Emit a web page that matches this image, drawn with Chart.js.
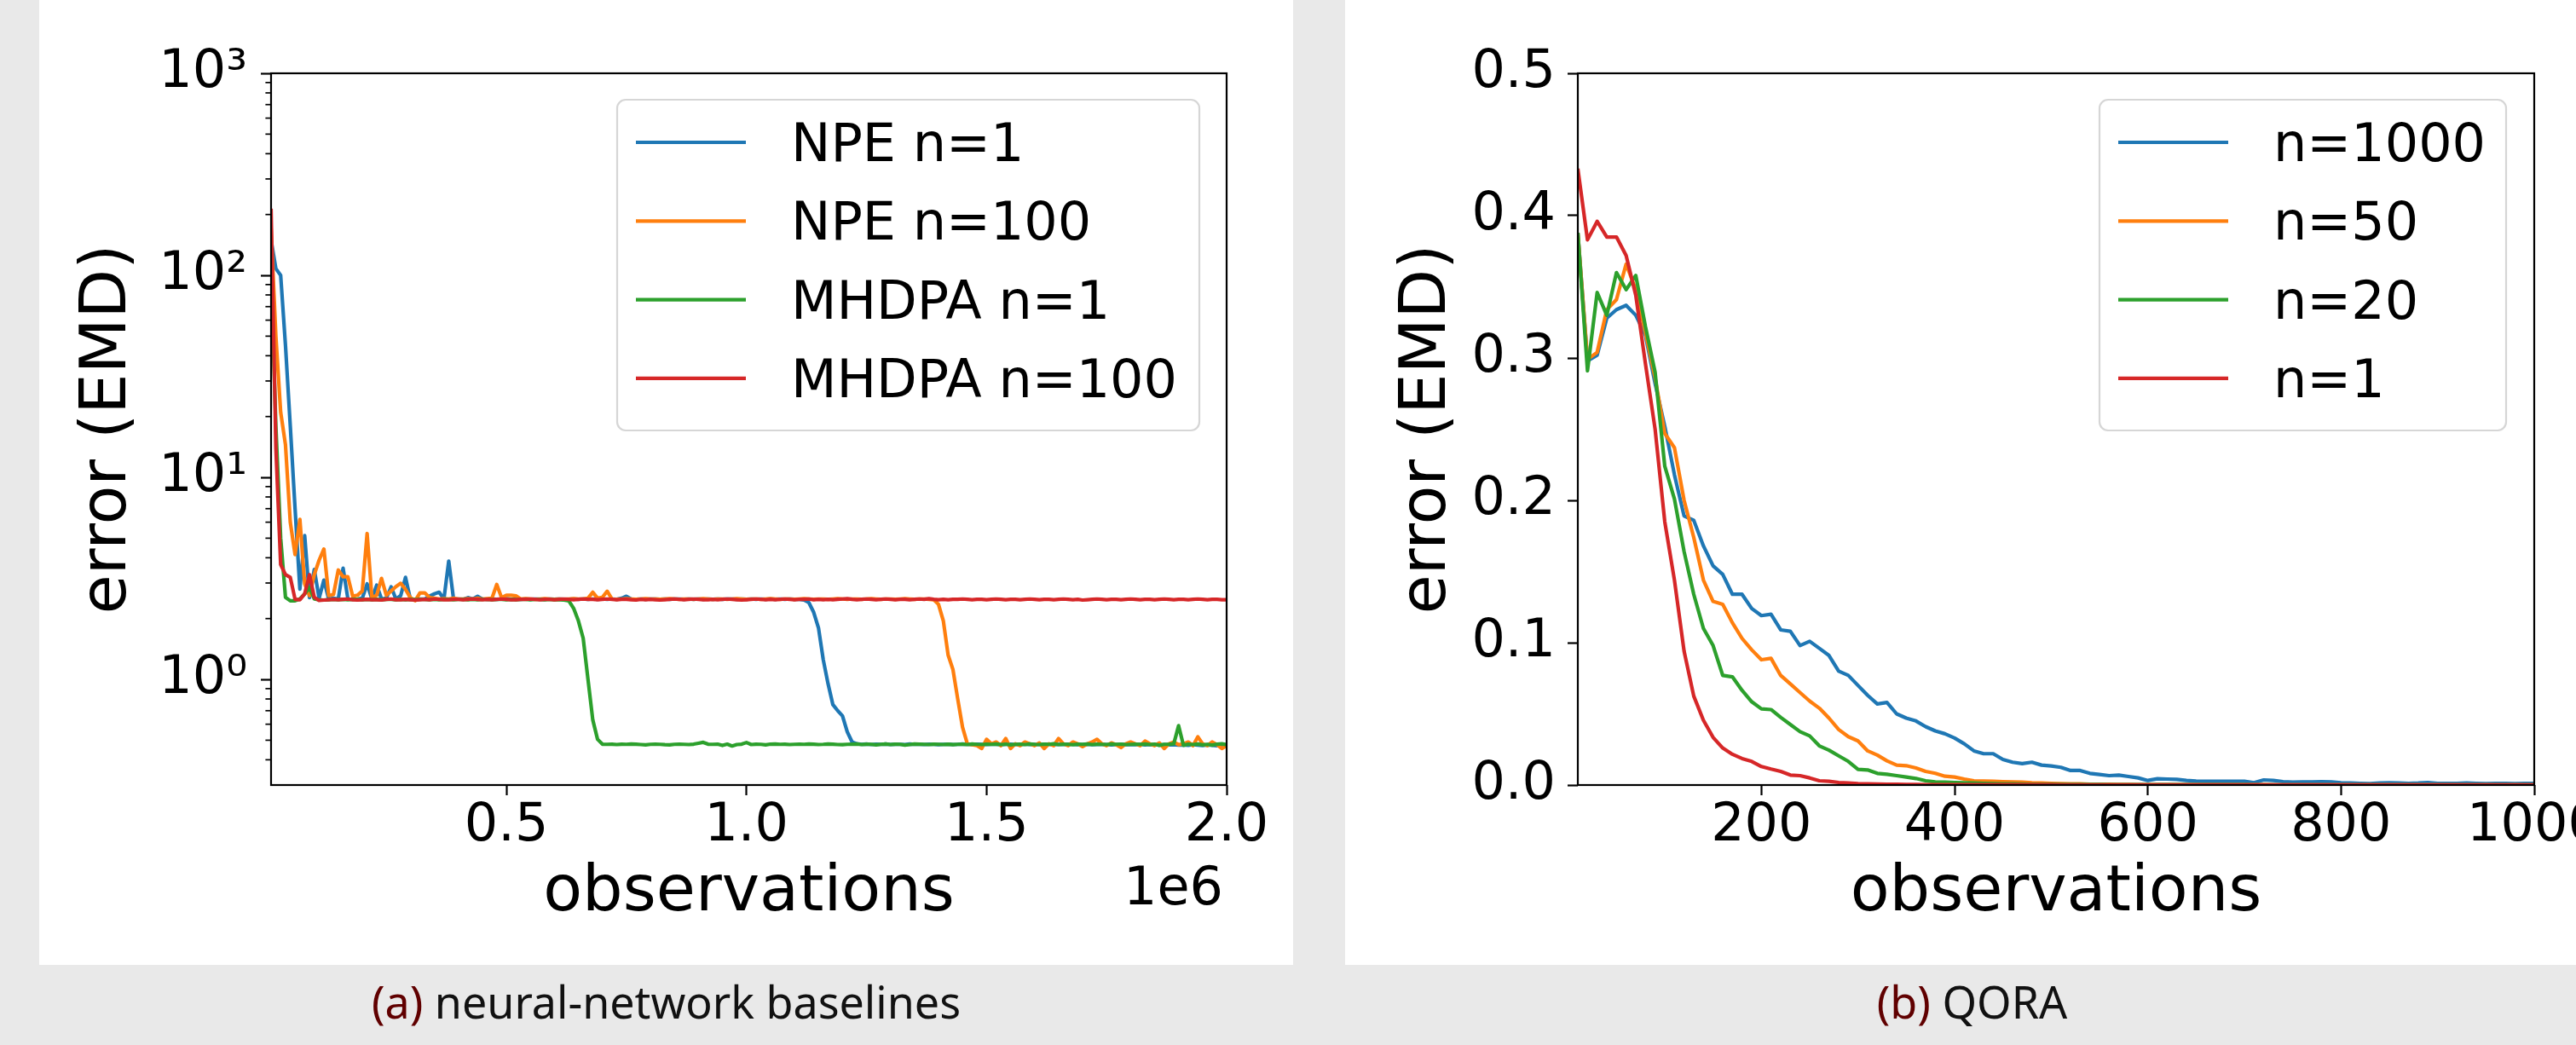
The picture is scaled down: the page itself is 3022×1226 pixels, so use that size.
<!DOCTYPE html>
<html><head><meta charset="utf-8">
<script src="https://cdn.jsdelivr.net/npm/chart.js@4"></script>
<style>
html,body{margin:0;padding:0;background:#e9e9e9;width:3022px;height:1226px;overflow:hidden;position:relative;}
.panel{position:absolute;top:0;height:1132px;background:#fff;}
#pa{left:46px;width:1471px;}
#pb{left:1578px;width:1471px;}
canvas{position:absolute;top:0;left:0;}
.cap{position:absolute;top:1149px;height:52px;line-height:52px;font-family:"Noto Sans";font-size:52px;color:#111;text-align:center;white-space:nowrap;}
.cap span{color:#600000;}
</style></head>
<body>
<div class="panel" id="pa"><canvas id="ca" width="1471" height="1132"></canvas></div>
<div class="panel" id="pb"><canvas id="cb" width="1482" height="1132"></canvas></div>
<div class="cap" style="left:46px;width:1471px;"><span>(a)</span> neural-network baselines</div>
<div class="cap" style="left:1578px;width:1471px;"><span>(b)</span> QORA</div>
<script>
const FONT = 'DejaVu Sans';
const COLORS = ['#1f77b4', '#ff7f0e', '#2ca02c', '#d62728'];

// ---------- (a) neural-network baselines ----------
const obsNN = [
10000,20000,30000,40000,50000,60000,70000,80000,90000,100000,
110000,120000,130000,140000,150000,160000,170000,180000,190000,200000,
210000,220000,230000,240000,250000,260000,270000,280000,290000,300000,
310000,320000,330000,340000,350000,360000,370000,380000,390000,400000,
410000,420000,430000,440000,450000,460000,470000,480000,490000,500000,
510000,520000,530000,540000,550000,560000,570000,580000,590000,600000,
610000,620000,630000,640000,650000,660000,670000,680000,690000,700000,
710000,720000,730000,740000,750000,760000,770000,780000,790000,800000,
810000,820000,830000,840000,850000,860000,870000,880000,890000,900000,
910000,920000,930000,940000,950000,960000,970000,980000,990000,1000000,
1010000,1020000,1030000,1040000,1050000,1060000,1070000,1080000,1090000,1100000,
1110000,1120000,1130000,1140000,1150000,1160000,1170000,1180000,1190000,1200000,
1210000,1220000,1230000,1240000,1250000,1260000,1270000,1280000,1290000,1300000,
1310000,1320000,1330000,1340000,1350000,1360000,1370000,1380000,1390000,1400000,
1410000,1420000,1430000,1440000,1450000,1460000,1470000,1480000,1490000,1500000,
1510000,1520000,1530000,1540000,1550000,1560000,1570000,1580000,1590000,1600000,
1610000,1620000,1630000,1640000,1650000,1660000,1670000,1680000,1690000,1700000,
1710000,1720000,1730000,1740000,1750000,1760000,1770000,1780000,1790000,1800000,
1810000,1820000,1830000,1840000,1850000,1860000,1870000,1880000,1890000,1900000,
1910000,1920000,1930000,1940000,1950000,1960000,1970000,1980000,1990000,2000000];

const npeN1 = [
150,108,100,45,18,7.0,2.8,5.15,2.54,3.5,
2.52,3.1,2.5,2.52,2.5,3.55,2.5,2.49,2.5,2.52,
2.97,2.5,2.93,2.5,2.52,2.87,2.5,2.6,3.2,2.5,
2.49,2.5,2.5,2.58,2.65,2.7,2.5,3.85,2.5,2.5,
2.49,2.54,2.5,2.58,2.5,2.49,2.5,2.49,2.5,2.51,
2.49,2.5,2.49,2.5,2.49,2.5,2.49,2.49,2.5,2.49,
2.5,2.49,2.49,2.5,2.49,2.5,2.49,2.5,2.49,2.5,
2.49,2.5,2.49,2.52,2.58,2.5,2.49,2.5,2.49,2.5,
2.5,2.49,2.5,2.49,2.5,2.5,2.49,2.5,2.49,2.5,
2.49,2.5,2.49,2.5,2.49,2.5,2.5,2.49,2.5,2.49,
2.5,2.49,2.5,2.49,2.5,2.49,2.5,2.49,2.5,2.49,
2.49,2.47,2.4,2.15,1.8,1.25,0.95,0.75,0.7,0.66,
0.55,0.49,0.48,0.477,0.479,0.476,0.478,0.477,0.479,0.476,
0.478,0.477,0.476,0.479,0.477,0.478,0.476,0.478,0.477,0.475,
0.477,0.478,0.476,0.477,0.479,0.477,0.476,0.478,0.477,0.476,
0.478,0.477,0.475,0.477,0.478,0.476,0.477,0.479,0.476,0.477,
0.476,0.478,0.477,0.475,0.477,0.476,0.478,0.477,0.475,0.476,
0.477,0.475,0.476,0.478,0.476,0.474,0.476,0.477,0.475,0.476,
0.475,0.477,0.474,0.476,0.475,0.473,0.476,0.474,0.475,0.473,
0.474,0.472,0.475,0.473,0.471,0.474,0.472,0.47,0.473,0.471];

const npeN100 = [
170,50,21,14.5,6.0,4.15,6.2,2.97,2.6,3.3,
3.89,4.42,2.6,2.63,3.48,3.22,3.22,2.58,2.61,2.74,
5.27,2.54,2.61,3.16,2.61,2.74,2.88,2.99,2.79,2.54,
2.45,2.68,2.68,2.54,2.52,2.5,2.51,2.5,2.52,2.5,
2.5,2.51,2.5,2.52,2.5,2.51,2.52,2.95,2.54,2.61,
2.61,2.59,2.5,2.51,2.5,2.49,2.5,2.51,2.5,2.49,
2.5,2.49,2.5,2.51,2.5,2.5,2.52,2.7,2.52,2.55,
2.73,2.5,2.49,2.5,2.51,2.5,2.49,2.5,2.51,2.5,
2.5,2.49,2.5,2.51,2.5,2.49,2.5,2.5,2.49,2.5,
2.51,2.5,2.49,2.5,2.5,2.49,2.5,2.51,2.5,2.49,
2.5,2.5,2.49,2.5,2.51,2.5,2.49,2.5,2.5,2.49,
2.5,2.51,2.5,2.49,2.5,2.5,2.49,2.5,2.51,2.5,
2.49,2.5,2.5,2.49,2.5,2.51,2.5,2.49,2.5,2.5,
2.49,2.5,2.51,2.5,2.49,2.5,2.5,2.49,2.48,2.35,
1.95,1.32,1.12,0.8,0.58,0.48,0.475,0.47,0.455,0.505,
0.48,0.49,0.47,0.51,0.455,0.48,0.47,0.49,0.48,0.47,
0.485,0.455,0.48,0.47,0.51,0.48,0.47,0.49,0.48,0.465,
0.48,0.49,0.505,0.48,0.47,0.485,0.475,0.46,0.48,0.49,
0.48,0.47,0.495,0.48,0.47,0.485,0.455,0.48,0.49,0.475,
0.48,0.49,0.47,0.52,0.48,0.47,0.49,0.475,0.455,0.47];

const mhdpaN1 = [
100,18,5,2.55,2.45,2.45,2.5,2.65,2.85,2.5,
2.48,2.47,2.48,2.49,2.48,2.49,2.48,2.49,2.49,2.48,
2.49,2.48,2.49,2.48,2.49,2.49,2.48,2.49,2.48,2.49,
2.48,2.49,2.49,2.48,2.49,2.48,2.49,2.49,2.48,2.49,
2.49,2.48,2.49,2.48,2.49,2.49,2.48,2.49,2.49,2.48,
2.49,2.48,2.49,2.49,2.48,2.49,2.49,2.48,2.49,2.48,
2.48,2.47,2.45,2.25,1.95,1.6,1.0,0.63,0.505,0.478,
0.477,0.478,0.476,0.478,0.477,0.479,0.478,0.476,0.474,0.477,
0.478,0.477,0.475,0.474,0.477,0.478,0.477,0.476,0.478,0.483,
0.488,0.478,0.477,0.478,0.471,0.478,0.468,0.476,0.478,0.487,
0.476,0.478,0.477,0.474,0.478,0.479,0.477,0.478,0.476,0.477,
0.478,0.477,0.479,0.478,0.476,0.477,0.479,0.478,0.476,0.475,
0.477,0.478,0.479,0.476,0.478,0.477,0.474,0.477,0.479,0.476,
0.478,0.477,0.473,0.476,0.479,0.478,0.477,0.476,0.478,0.477,
0.476,0.478,0.475,0.477,0.478,0.476,0.479,0.477,0.476,0.478,
0.477,0.479,0.476,0.478,0.474,0.477,0.478,0.476,0.479,0.477,
0.476,0.478,0.477,0.48,0.476,0.478,0.477,0.475,0.478,0.477,
0.479,0.476,0.478,0.477,0.476,0.479,0.477,0.478,0.476,0.477,
0.478,0.477,0.479,0.476,0.478,0.472,0.477,0.478,0.48,0.59,
0.472,0.478,0.476,0.479,0.474,0.477,0.473,0.478,0.48,0.475];

const mhdpaN100 = [
214,14,3.7,3.3,3.2,2.49,2.48,2.65,3.3,2.55,
2.46,2.47,2.48,2.49,2.48,2.49,2.5,2.48,2.47,2.48,
2.49,2.48,2.48,2.47,2.49,2.5,2.48,2.48,2.49,2.48,
2.47,2.48,2.49,2.48,2.5,2.49,2.48,2.48,2.49,2.49,
2.48,2.49,2.5,2.49,2.48,2.49,2.48,2.49,2.5,2.49,
2.48,2.48,2.49,2.49,2.5,2.49,2.48,2.49,2.49,2.48,
2.49,2.5,2.49,2.48,2.49,2.5,2.49,2.49,2.48,2.49,
2.5,2.49,2.48,2.49,2.49,2.48,2.47,2.49,2.48,2.49,
2.48,2.47,2.48,2.49,2.5,2.49,2.48,2.49,2.5,2.49,
2.48,2.48,2.49,2.48,2.49,2.5,2.49,2.48,2.47,2.48,
2.49,2.5,2.49,2.48,2.49,2.48,2.49,2.5,2.49,2.48,
2.49,2.49,2.5,2.48,2.49,2.48,2.49,2.48,2.49,2.5,
2.51,2.49,2.48,2.49,2.5,2.49,2.48,2.49,2.5,2.49,
2.48,2.49,2.49,2.48,2.49,2.5,2.49,2.51,2.49,2.48,
2.49,2.48,2.49,2.49,2.5,2.49,2.48,2.49,2.49,2.48,
2.49,2.5,2.49,2.48,2.49,2.49,2.48,2.49,2.5,2.49,
2.48,2.49,2.49,2.48,2.49,2.5,2.49,2.48,2.49,2.47,
2.48,2.49,2.5,2.49,2.48,2.49,2.49,2.48,2.49,2.5,
2.49,2.48,2.49,2.49,2.48,2.49,2.5,2.49,2.48,2.49,
2.49,2.48,2.49,2.5,2.49,2.48,2.49,2.49,2.48,2.48];

const labelsNN = ['NPE n=1', 'NPE n=100', 'MHDPA n=1', 'MHDPA n=100'];
const xTicksNN = [500000, 1000000, 1500000, 2000000];
const xTickLabelsNN = ['0.5', '1.0', '1.5', '2.0'];
const yTicksNN = [1, 10, 100, 1000];
const yTickLabelsNN = ['10\u2070', '10\u00B9', '10\u00B2', '10\u00B3'];
const yMinorNN = [0.4,0.5,0.6,0.7,0.8,0.9,2,3,4,5,6,7,8,9,20,30,40,50,60,70,80,90,200,300,400,500,600,700,800,900];

// ---------- (b) QORA ----------
const obsQ = [
10,20,30,40,50,60,70,80,90,100,
110,120,130,140,150,160,170,180,190,200,
210,220,230,240,250,260,270,280,290,300,
310,320,330,340,350,360,370,380,390,400,
410,420,430,440,450,460,470,480,490,500,
510,520,530,540,550,560,570,580,590,600,
610,620,630,640,650,660,670,680,690,700,
710,720,730,740,750,760,770,780,790,800,
810,820,830,840,850,860,870,880,890,900,
910,920,930,940,950,960,970,980,990,1000];

const qoraN1000 = [
0.388,0.298,0.302,0.328,0.334,0.337,0.330,0.316,0.282,0.252,
0.218,0.189,0.186,0.168,0.154,0.148,0.134,0.134,0.124,0.119,
0.120,0.109,0.108,0.098,0.101,0.096,0.091,0.080,0.077,0.070,
0.063,0.057,0.058,0.050,0.047,0.045,0.041,0.038,0.036,0.033,
0.029,0.024,0.022,0.022,0.018,0.016,0.015,0.016,0.014,0.0134,
0.0124,0.0102,0.0102,0.0082,0.0074,0.0066,0.0070,0.0060,0.0050,0.0032,
0.0044,0.0042,0.0040,0.0032,0.0028,0.0026,0.0026,0.0026,0.0026,0.0026,
0.0016,0.0036,0.0032,0.0024,0.0020,0.0022,0.0022,0.0024,0.0022,0.0016,
0.0014,0.0012,0.0010,0.0014,0.0016,0.0014,0.0012,0.0014,0.0018,0.0012,
0.0012,0.0012,0.0014,0.0012,0.0010,0.0012,0.0012,0.0010,0.0012,0.0012];

const qoraN50 = [
0.388,0.299,0.304,0.334,0.341,0.366,0.348,0.318,0.286,0.247,
0.237,0.200,0.174,0.144,0.129,0.127,0.114,0.103,0.095,0.088,
0.089,0.077,0.071,0.065,0.059,0.054,0.047,0.039,0.034,0.031,
0.024,0.021,0.017,0.014,0.0136,0.012,0.0096,0.0082,0.0062,0.0056,
0.0042,0.0030,0.0028,0.0026,0.0024,0.0022,0.0020,0.0016,0.0014,0.0012,
0.0010,0.0008,0.0008,0.0006,0.0006,0.0005,0.0004,0.0004,0.0003,0.0003,
0.0003,0.0002,0.0002,0.0002,0.0002,0.0002,0.0002,0.0002,0.0002,0.0002,
0.0002,0.0002,0.0001,0.0001,0.0001,0.0001,0.0001,0.0001,0.0001,0.0001,
0.0001,0.0001,0.0001,0.0001,0.0001,0.0001,0.0001,0.0001,0.0001,0.0001,
0.0001,0.0001,0.0001,0.0001,0.0001,0.0001,0.0001,0.0001,0.0001,0.0001];

const qoraN20 = [
0.388,0.291,0.346,0.330,0.360,0.348,0.358,0.322,0.290,0.224,
0.201,0.164,0.134,0.110,0.098,0.077,0.076,0.0665,0.0585,0.0535,
0.053,0.0475,0.0425,0.0375,0.0345,0.0275,0.0245,0.0205,0.0166,0.011,
0.0106,0.0082,0.0076,0.0066,0.0056,0.0046,0.0030,0.0022,0.0020,0.0018,
0.0016,0.0014,0.0012,0.0010,0.0009,0.0008,0.0007,0.0006,0.0005,0.0005,
0.0004,0.0004,0.0004,0.0004,0.0004,0.0003,0.0003,0.0003,0.0003,0.0003,
0.0002,0.0002,0.0002,0.0002,0.0002,0.0002,0.0002,0.0002,0.0002,0.0002,
0.0001,0.0001,0.0001,0.0001,0.0001,0.0001,0.0001,0.0001,0.0001,0.0001,
0.0001,0.0001,0.0001,0.0001,0.0001,0.0001,0.0001,0.0001,0.0001,0.0001,
0.0001,0.0001,0.0001,0.0001,0.0001,0.0001,0.0001,0.0001,0.0001,0.0001];

const qoraN1 = [
0.433,0.383,0.396,0.385,0.385,0.372,0.344,0.296,0.250,0.185,
0.144,0.094,0.0625,0.0455,0.0335,0.026,0.0216,0.0186,0.0166,0.013,
0.0112,0.0096,0.0070,0.0066,0.0050,0.0030,0.0026,0.0018,0.0014,0.0010,
0.0008,0.0007,0.0006,0.0005,0.0004,0.0004,0.0003,0.0003,0.0003,0.0002,
0.0002,0.0002,0.0002,0.0002,0.0002,0.0002,0.0002,0.0002,0.0002,0.0002,
0.0001,0.0001,0.0001,0.0001,0.0001,0.0001,0.0001,0.0001,0.0001,0.0001,
0.0001,0.0001,0.0001,0.0001,0.0001,0.0001,0.0001,0.0001,0.0001,0.0001,
0.0001,0.0001,0.0001,0.0001,0.0001,0.0001,0.0001,0.0001,0.0001,0.0001,
0.0001,0.0001,0.0001,0.0001,0.0001,0.0001,0.0001,0.0001,0.0001,0.0001,
0.0001,0.0001,0.0001,0.0001,0.0001,0.0001,0.0001,0.0001,0.0001,0.0001];

const labelsQ = ['n=1000', 'n=50', 'n=20', 'n=1'];
const xTicksQ = [200, 400, 600, 800, 1000];
const yTicksQ = [0, 0.1, 0.2, 0.3, 0.4, 0.5];

// ---------- helpers ----------
function makeDatasets(xs, series, labels) {
  return series.map((s, i) => ({
    label: labels[i],
    data: s.map((v, k) => ({ x: xs[k], y: v })),
    borderColor: COLORS[i],
    backgroundColor: COLORS[i],
    borderWidth: 4.2,
    borderJoinStyle: 'round',
    borderCapStyle: 'butt',
    pointRadius: 0,
    tension: 0,
    fill: false,
    order: 4 - i
  }));
}

function decor(opts) {
  return {
    id: 'decor',
    afterDraw(chart) {
      const { ctx, chartArea: a } = chart;
      ctx.save();
      if (opts.minor) {
        const ys = chart.scales.y;
        ctx.strokeStyle = '#000';
        ctx.lineWidth = 1.7;
        opts.minor.forEach(v => {
          const y = ys.getPixelForValue(v);
          ctx.beginPath(); ctx.moveTo(a.left - 6.6, y); ctx.lineTo(a.left, y); ctx.stroke();
        });
      }
      ctx.strokeStyle = '#000';
      ctx.lineWidth = 2.2;
      ctx.strokeRect(a.left, a.top, a.right - a.left, a.bottom - a.top);
      if (opts.offsetText) {
        ctx.font = '62px "' + FONT + '"';
        ctx.fillStyle = '#000';
        ctx.textAlign = 'right';
        ctx.textBaseline = 'alphabetic';
        ctx.fillText(opts.offsetText, a.right - 4, a.bottom + 140);
      }
      // legend
      const bw = opts.legendW, bh = 388;
      const bx = a.right - opts.legendGap - bw, by = a.top + 31;
      ctx.beginPath();
      ctx.roundRect(bx, by, bw, bh, 10);
      ctx.fillStyle = 'rgba(255,255,255,0.8)';
      ctx.fill();
      ctx.strokeStyle = '#d6d6d6';
      ctx.lineWidth = 2.2;
      ctx.stroke();
      chart.data.datasets.forEach((ds, i) => {
        const ly = by + 50 + i * 92.3;
        ctx.strokeStyle = ds.borderColor;
        ctx.lineWidth = 4.2;
        ctx.beginPath(); ctx.moveTo(bx + 22, ly); ctx.lineTo(bx + 151, ly); ctx.stroke();
        ctx.fillStyle = '#000';
        ctx.font = '62px "' + FONT + '"';
        ctx.textAlign = 'left';
        ctx.textBaseline = 'alphabetic';
        ctx.fillText(ds.label, bx + 204, ly + 22);
      });
      ctx.restore();
    }
  };
}

const tickFont = { family: FONT, size: 62 };
const titleFont = { family: FONT, size: 75 };
const gridOpts = { drawOnChartArea: false, drawTicks: true, tickLength: 12, tickWidth: 2.2, tickColor: '#000' };

// ---------- chart (a) ----------
new Chart(document.getElementById('ca'), {
  type: 'line',
  data: { datasets: makeDatasets(obsNN, [npeN1, npeN100, mhdpaN1, mhdpaN100], labelsNN) },
  options: {
    responsive: false, animation: false, devicePixelRatio: 1,
    layout: { padding: { left: 0, top: 86, right: 78, bottom: 38 } },
    plugins: { legend: { display: false }, tooltip: { enabled: false } },
    scales: {
      x: {
        type: 'linear', min: 10000, max: 2000000,
        afterBuildTicks: s => { s.ticks = xTicksNN.map(v => ({ value: v })); },
        afterFit: s => { s.height = 173; },
        ticks: { callback: (v, i) => xTickLabelsNN[i], font: tickFont, color: '#000', padding: 0, maxRotation: 0, autoSkip: false },
        grid: gridOpts,
        border: { display: false },
        title: { display: true, text: 'observations', font: titleFont, color: '#000', padding: { top: 0, bottom: 0 } }
      },
      y: {
        type: 'logarithmic', min: 0.337, max: 1000,
        afterBuildTicks: s => { s.ticks = yTicksNN.map(v => ({ value: v, major: true })); },
        afterFit: s => { s.width = 272; },
        ticks: { callback: (v, i) => yTickLabelsNN[i], font: tickFont, color: '#000', padding: 16, autoSkip: false },
        grid: gridOpts,
        border: { display: false },
        title: { display: true, text: 'error (EMD)', font: titleFont, color: '#000', padding: { top: 37, bottom: 0 } }
      }
    }
  },
  plugins: [decor({ minor: yMinorNN, offsetText: '1e6', legendW: 683, legendGap: 32 })]
});

// ---------- chart (b) ----------
new Chart(document.getElementById('cb'), {
  type: 'line',
  data: { datasets: makeDatasets(obsQ, [qoraN1000, qoraN50, qoraN20, qoraN1], labelsQ) },
  options: {
    responsive: false, animation: false, devicePixelRatio: 1,
    layout: { padding: { left: 0, top: 86, right: 87, bottom: 38 } },
    plugins: { legend: { display: false }, tooltip: { enabled: false } },
    scales: {
      x: {
        type: 'linear', min: 10, max: 1000,
        afterBuildTicks: s => { s.ticks = xTicksQ.map(v => ({ value: v })); },
        afterFit: s => { s.height = 173; },
        ticks: { callback: (v, i) => String(xTicksQ[i]), font: tickFont, color: '#000', padding: 0, maxRotation: 0, autoSkip: false },
        grid: gridOpts,
        border: { display: false },
        title: { display: true, text: 'observations', font: titleFont, color: '#000', padding: { top: 0, bottom: 0 } }
      },
      y: {
        type: 'linear', min: 0, max: 0.5,
        afterBuildTicks: s => { s.ticks = yTicksQ.map(v => ({ value: v })); },
        afterFit: s => { s.width = 273; },
        ticks: { callback: (v, i) => yTicksQ[i].toFixed(1), font: tickFont, color: '#000', padding: 14, autoSkip: false },
        grid: gridOpts,
        border: { display: false },
        title: { display: true, text: 'error (EMD)', font: titleFont, color: '#000', padding: { top: 53, bottom: 0 } }
      }
    }
  },
  plugins: [decor({ legendW: 477, legendGap: 33 })]
});
</script>
</body></html>
